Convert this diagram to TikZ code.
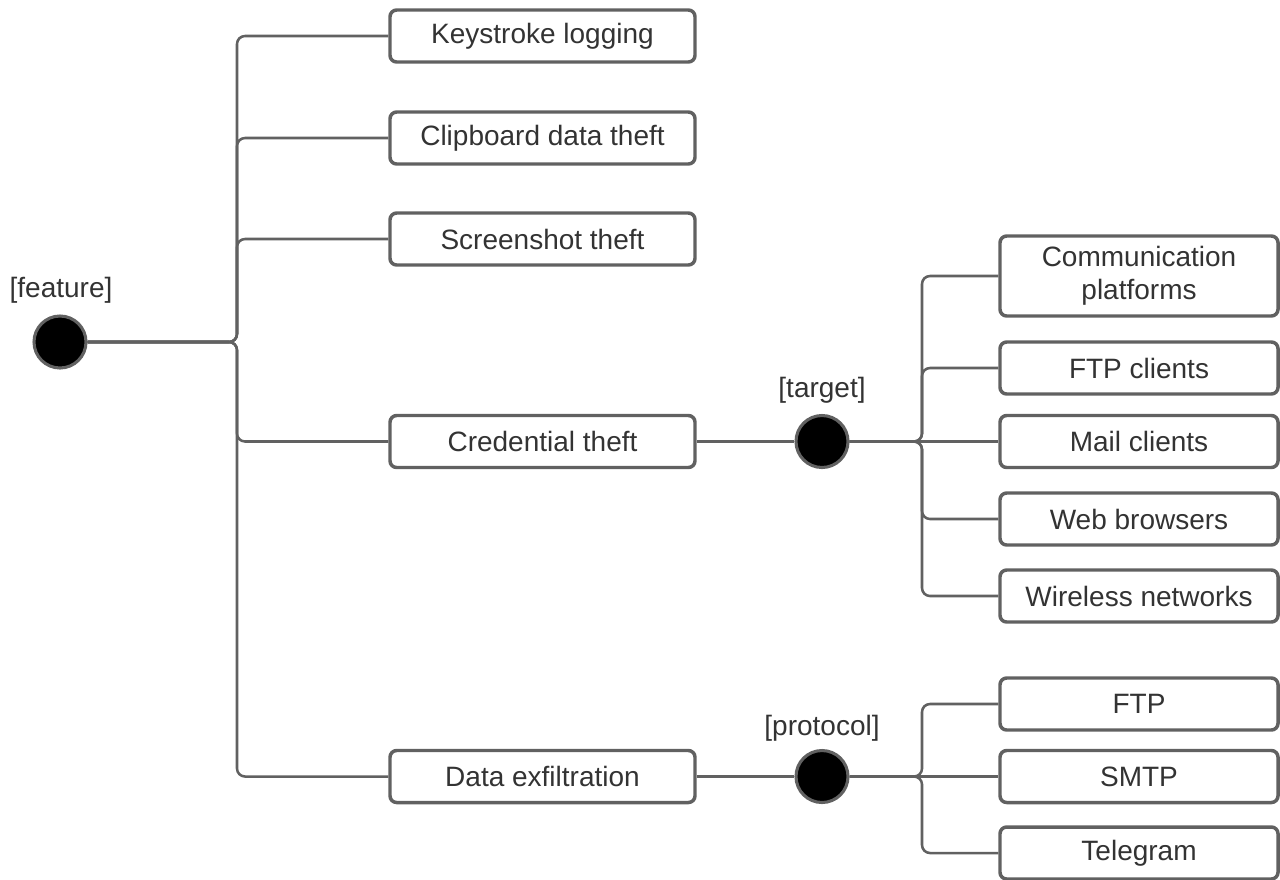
\documentclass[tikz,border=0pt]{standalone}
\usepackage{fontspec}
\setmainfont{Liberation Sans}
\usepackage{xcolor}
\definecolor{cLine}{HTML}{616161}
\definecolor{cText}{HTML}{333333}
\usetikzlibrary{positioning}
\tikzset{
  node-box/.style={draw=cLine,line width=2.6pt,rounded corners=5pt,fill=white,
    minimum height=39pt,align=center,inner sep=2pt},
  node-left/.style={node-box,minimum width=228.75pt},
  node-right/.style={node-box,minimum width=208.5pt},
  node-dot/.style={draw=cLine,line width=2.3pt,circle,fill=black,
    minimum size=39pt,inner sep=0pt},
  node-tag/.style={inner sep=0pt},
  link/.style={draw=cLine,line width=1.9pt,rounded corners=6pt},
}

\begin{document}
\begin{tikzpicture}[x=0.75pt,y=-0.75pt,font=\fontsize{21}{25}\selectfont,text=cText]
  \useasboundingbox (0,0) rectangle (1280,879);
  % root
  \node[node-dot] (feature) at (60,342) {};
  \node[node-tag] (feature-tag) at (61,290) {[feature]};
  \node[node-left] (keylog) at (542.5,36) {Keystroke logging};
  \node[node-left] (clip) at (542.5,138) {Clipboard data theft};
  \node[node-left] (shot) at (542.5,239) {Screenshot theft};
  \node[node-left] (cred) at (542.5,441.5) {Credential theft};
  \node[node-left] (exfil) at (542.5,776.5) {Data exfiltration};
  \coordinate (feature-bar) at (237,342);
  \foreach \n in {keylog,clip,shot,cred,exfil}
    \draw[link] (feature) -- (feature-bar) |- (\n);
  % credential targets
  \node[node-dot] (target) at (822,441.5) {};
  \node[node-tag] (target-tag) at (822,390) {[target]};
  \node[node-right,minimum height=60pt] (comm) at (1139,276) {Communication\\platforms};
  \node[node-right] (ftpc) at (1139,368) {FTP clients};
  \node[node-right] (mail) at (1139,441.5) {Mail clients};
  \node[node-right] (web) at (1139,519) {Web browsers};
  \node[node-right] (wifi) at (1139,596) {Wireless networks};
  \draw[link] (cred) -- (target);
  \coordinate (target-bar) at (922,441.5);
  \foreach \n in {comm,ftpc,web,wifi}
    \draw[link] (target) -- (target-bar) |- (\n);
  \draw[link] (target) -- (mail);
  % exfiltration protocols
  \node[node-dot] (protocol) at (822,776.5) {};
  \node[node-tag] (protocol-tag) at (822,728) {[protocol]};
  \node[node-right] (ftp) at (1139,704) {FTP};
  \node[node-right] (smtp) at (1139,776.5) {SMTP};
  \node[node-right] (tg) at (1139,853) {Telegram};
  \draw[link] (exfil) -- (protocol);
  \coordinate (protocol-bar) at (922,776.5);
  \foreach \n in {ftp,tg}
    \draw[link] (protocol) -- (protocol-bar) |- (\n);
  \draw[link] (protocol) -- (smtp);
\end{tikzpicture}
\end{document}
